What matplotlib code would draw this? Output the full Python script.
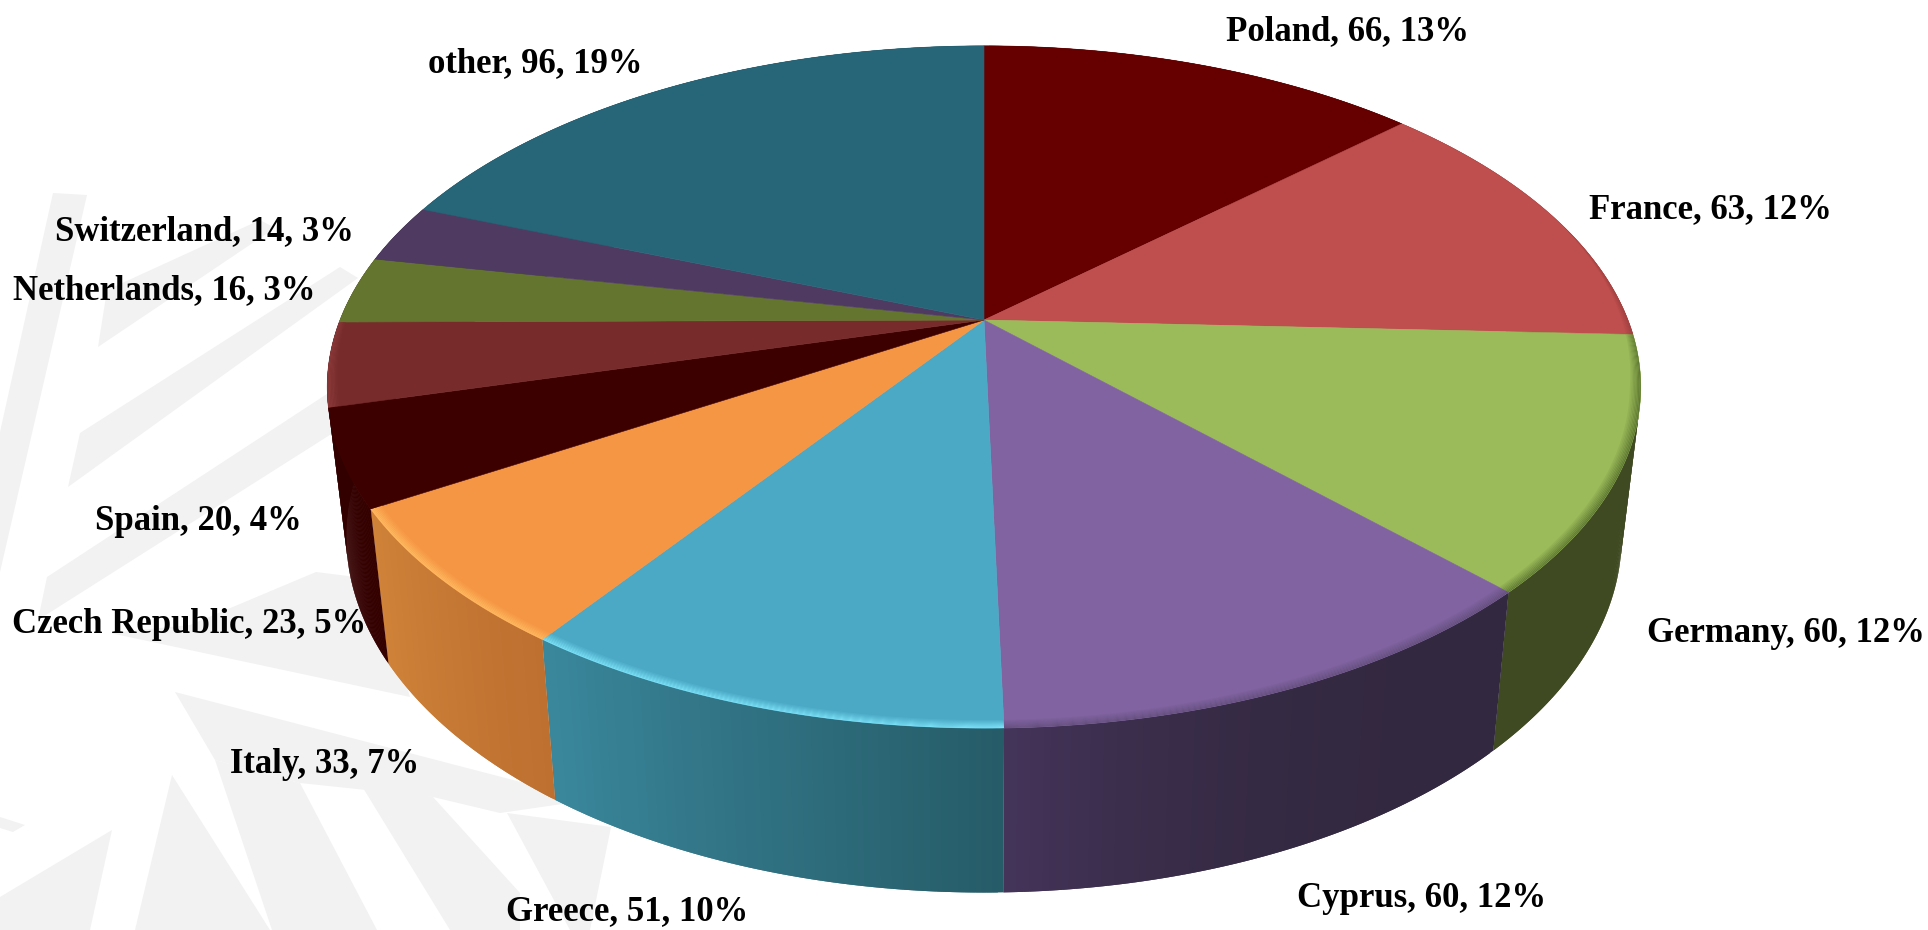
import numpy as np
import matplotlib
matplotlib.use('Agg')
import matplotlib.pyplot as plt
from matplotlib.colors import to_rgb

plt.rcParams['font.family'] = ['Liberation Serif', 'DejaVu Serif']

# values
countries = ['Poland', 'France', 'Germany', 'Cyprus', 'Greece', 'Italy',
             'Czech Republic', 'Spain', 'Netherlands', 'Switzerland', 'other']
counts = [66, 63, 60, 60, 51, 33, 23, 20, 16, 14, 96]
percents = [13, 12, 12, 12, 10, 7, 5, 4, 3, 3, 19]

top_colors = ['#660000', '#BE4F4E', '#9BBA59', '#8063A0', '#4BA9C5', '#F59644',
              '#3D0000', '#772B2B', '#64752F', '#4F3B62', '#276678']
rim_colors = ['#660000', '#9C3F3F', '#5F7A32', '#66507F', '#7CE2F8', '#FFBA60',
              '#3D0000', '#8C3A3A', '#64752F', '#4F3B62', '#276678']
wall_left = ['#330000', '#5E2626', '#3F4A22', '#44345A', '#3A879C', '#CF8238',
             '#340000', '#330000', '#330000', '#281E32', '#133340']
wall_right = ['#330000', '#5E2626', '#3F4A22', '#32283F', '#265C68', '#BD7030',
              '#340000', '#330000', '#330000', '#281E32', '#133340']
wall_power = [1, 1, 1, 3, 1, 1, 1, 1, 1, 1, 1]

# label centres in pixels
label_x = [1347, 1710, 1786, 1422, 627, 325, 189, 198, 164, 204, 535]
label_y = [32, 210, 633, 898, 912, 764, 624, 521, 291, 232, 64]

# pie geometry in pixels
cx, cy = 984, 320
A, B, k = 644, 328, 0.1964


def top_xy(theta, r=1.0):
    # perspective view of the disc, theta clockwise from 12 o'clock
    d = 1 + k * r * np.cos(theta)
    return A * r * np.sin(theta) / d, -B * r * np.cos(theta) / d


def bottom_xy(theta):
    x, y = top_xy(theta)
    return cx + 0.971 * x, cy + 1.045 * y + 146


fig = plt.figure()
fig.set_size_inches(19.28, 9.30)
ax = fig.add_axes([0, 0, 1, 1])
ax.set_xlim(0, 1928)
ax.set_ylim(930, 0)
ax.axis('off')

# faint watermark behind the chart
watermark = [
    [(53, 193), (87, 195), (0, 572), (0, 432)],
    [(107, 290), (260, 220), (275, 228), (98, 347)],
    [(80, 433), (340, 267), (358, 278), (68, 487)],
    [(47, 577), (333, 390), (333, 433), (38, 620)],
    [(316, 572), (348, 576), (380, 590), (410, 697), (110, 633), (190, 625)],
    [(175, 692), (590, 800), (500, 813), (433, 797), (300, 783), (215, 760)],
    [(215, 760), (300, 783), (377, 930), (272, 930)],
    [(360, 783), (433, 797), (520, 893), (520, 930), (450, 930)],
    [(507, 813), (611, 827), (590, 930), (570, 930)],
    [(172, 775), (270, 930), (135, 930)],
    [(112, 830), (90, 930), (0, 930), (0, 897)],
    [(0, 817), (25, 825), (13, 832), (0, 828)],
    [(200, 907), (217, 930), (187, 930)],
]
for poly in watermark:
    px, py = zip(*poly)
    ax.fill(px, py, color='#F2F2F2', lw=0, zorder=0)

edges = np.cumsum([0] + counts) / sum(counts) * 2 * np.pi

# side wall, thin overlapping strips so the shading runs across each slice
for i in range(len(counts)):
    t = np.linspace(edges[i], edges[i + 1], 90)
    c0, c1 = np.array(to_rgb(wall_left[i])), np.array(to_rgb(wall_right[i]))
    tx, ty = top_xy(t)
    bx, by = bottom_xy(t)
    for j in range(len(t) - 1):
        f = (j / (len(t) - 2)) ** wall_power[i]
        col = c1 + (c0 - c1) * f
        e = min(j + 2, len(t) - 1)
        ax.fill(np.r_[cx + tx[j:e + 1], bx[j:e + 1][::-1]],
                np.r_[cy + ty[j:e + 1], by[j:e + 1][::-1]],
                color=col, lw=0, zorder=2)

# top face with a thin bevel along the rim, fading out towards the back
for i in range(len(counts)):
    t = np.linspace(edges[i], edges[i + 1], 120)
    tx, ty = top_xy(t)
    ax.fill(np.r_[cx, cx + tx], np.r_[cy, cy + ty], color=top_colors[i], lw=0.4, zorder=3)
    base = np.array(to_rgb(top_colors[i]))
    rim = np.array(to_rgb(rim_colors[i]))
    taper = np.clip((0.3 - np.cos(t)) / 0.5, 0, 1)
    for s in range(8):
        w0, w1 = 0.016 * (1 - s / 8), 0.016 * (1 - (s + 1) / 8)
        x0, y0 = top_xy(t, 1 - w0 * taper)
        x1, y1 = top_xy(t, 1 - w1 * taper)
        ax.fill(np.r_[cx + x0, cx + x1[::-1]], np.r_[cy + y0, cy + y1[::-1]],
                color=base + (rim - base) * (s + 1) / 8, lw=0, zorder=4)

for i, name in enumerate(countries):
    ax.text(label_x[i], label_y[i], '%s, %d, %d%%' % (name, counts[i], percents[i]),
            fontsize=25, fontweight='bold', color='black', ha='center', va='center', zorder=5)

fig.savefig('out.png', dpi=100)
